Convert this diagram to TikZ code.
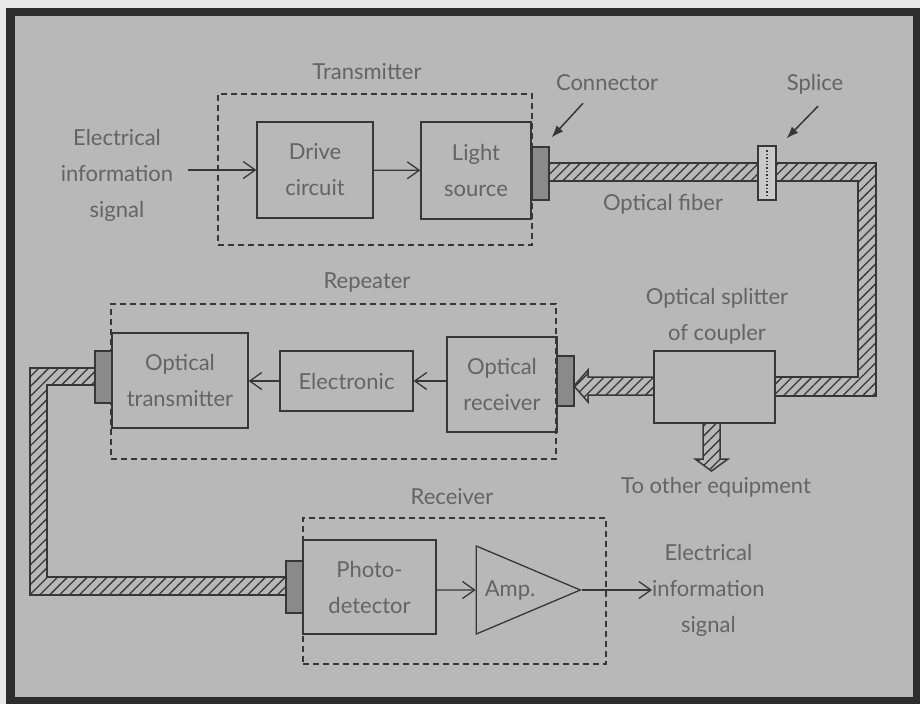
\documentclass[tikz,border=0pt]{standalone}
\usepackage{fontspec}
\setmainfont{Lato}
\usetikzlibrary{arrows.meta,positioning,calc,shapes.geometric,patterns.meta}

\definecolor{paper}{RGB}{232,232,232}
\definecolor{framecol}{RGB}{45,45,45}
\definecolor{panel}{RGB}{184,184,184}
\definecolor{ink}{RGB}{55,55,55}
\definecolor{txt}{RGB}{100,100,100}
\definecolor{plug}{RGB}{138,138,138}

\begin{document}
\begin{tikzpicture}[x=1pt, y=-1pt,
    font=\fontsize{22}{36}\selectfont,
    block/.style={rectangle, draw=ink, line width=1.3pt, text=txt, align=center, inner sep=0pt},
    group/.style={rectangle, draw=ink, line width=1.2pt, dash pattern=on 6pt off 4pt},
    plugbox/.style={rectangle, draw=ink, fill=plug, line width=1.2pt, minimum width=17pt, inner sep=0pt},
    lbl/.style={text=txt, align=center, inner sep=0pt},
    signal/.style={-{Straight Barb[length=12pt,width=17pt,line width=1.3pt]}, draw=ink, line width=1.3pt},
    pointer/.style={-{Latex[length=12pt,width=9pt]}, draw=ink, line width=1.5pt},
    fiber/.style={draw=ink, line width=1.5pt, pattern={Lines[angle=45,distance=7pt,line width=1.3pt]}, pattern color=ink}
]
\useasboundingbox (0,0) rectangle (920,704);
\fill[paper] (0,0) rectangle (920,704);
\fill[framecol] (6,8) rectangle (920,704);
\fill[panel] (15,16) rectangle (913,697);

% Groups
\node[group, minimum width=314pt, minimum height=151pt] (txgroup) at (375,169.5) {};
\node[group, minimum width=445pt, minimum height=155pt] (rpgroup) at (333.5,381.5) {};
\node[group, minimum width=303pt, minimum height=146pt] (rcgroup) at (454.5,591) {};
\node[lbl] (txlbl) at (367,72) {Transmitter};
\node[lbl] (rplbl) at (367,283) {Repeater};
\node[lbl] (rclbl) at (452,497) {Receiver};

% Fibers
\draw[fiber] (549,163) -- (876,163) -- (876,396) -- (775,396) -- (775,377) -- (858,377) -- (858,181) -- (549,181) -- cycle;
\draw[fiber] (654,377) -- (588,377) -- (588,370) -- (574,386) -- (588,402) -- (588,395) -- (654,395) -- cycle;
\draw[fiber] (703,423) -- (703,459) -- (695,459) -- (711.5,471) -- (728,459) -- (720,459) -- (720,423) -- cycle;
\draw[fiber] (95,368) -- (30,368) -- (30,595) -- (286,595) -- (286,577) -- (47,577) -- (47,385) -- (95,385) -- cycle;

% Transmitter
\node[lbl] (inlbl) at (117,175) {Electrical\\information\\signal};
\node[block, minimum width=116pt, minimum height=96pt] (drive) at (315,170) {Drive\\circuit};
\node[block, minimum width=110pt, minimum height=97pt] (light) at (476,170.5) {Light\\source};
\node[plugbox, minimum height=53pt] (lsplug) at (540.5,173.5) {};
\node[rectangle, draw=ink, fill=panel!75!white, line width=1.2pt, minimum width=18pt, minimum height=54pt, inner sep=0pt] (splice) at (767,173) {};
\draw[ink, dotted, line width=1.4pt] ($(splice.north)+(0,5)$) -- ($(splice.south)+(0,-5)$);
\node[lbl] (conlbl) at (607,83) {Connector};
\node[lbl] (splicelbl) at (815,84) {Splice};
\node[lbl] (fiberlbl) at (663,204) {Optical fiber};

\draw[signal] ($(inlbl.east |- drive)+(15,0)$) -- (drive.west);
\draw[signal] (drive) -- (light);
\draw[pointer] ($(conlbl.south)+(-24,12)$) -- ($(lsplug.north east)+(2,-9)$);
\draw[pointer] ($(splicelbl.south)+(3,12)$) -- ($(splice.north east)+(10,-7)$);

% Repeater
\node[block, minimum width=136pt, minimum height=95pt] (otx) at (180,380.5) {Optical\\transmitter};
\node[block, minimum width=133pt, minimum height=60pt] (elec) at (346.5,381) {Electronic};
\node[block, minimum width=110pt, minimum height=95pt] (orx) at (502,384.5) {Optical\\receiver};
\node[plugbox, minimum height=50pt] (rxplug) at (565.5,381) {};
\node[plugbox, minimum height=52pt] (txplug) at (103.5,377) {};
\draw[signal] (orx.west |- elec) -- (elec.east);
\draw[signal] (elec.west) -- (otx.east |- elec);

% Splitter
\node[block, minimum width=121pt, minimum height=72pt] (splitter) at (714.5,387) {};
\node[lbl] (splitlbl) at (717,316) {Optical splitter\\of coupler};
\node[lbl] (otherlbl) at (716,487) {To other equipment};

% Receiver
\node[plugbox, minimum height=52pt] (pdplug) at (294.5,587) {};
\node[block, minimum width=133pt, minimum height=94pt] (pd) at (369.5,587) {Photo-\\detector};
\node[isosceles triangle, isosceles triangle stretches, shape border rotate=0, draw=ink, line width=1.3pt, text=txt,
      minimum width=88pt, minimum height=104pt, inner sep=0pt, anchor=apex] (amp) at (582,590) {Amp.};
\node[lbl, anchor=west] (outlbl) at (652,590) {Electrical\\information\\signal};
\draw[signal] (pd.east |- amp.apex) -- ($(amp.left corner)!0.5!(amp.right corner)$);
\draw[signal] (amp.apex) -- (outlbl.west);

\end{tikzpicture}
\end{document}
